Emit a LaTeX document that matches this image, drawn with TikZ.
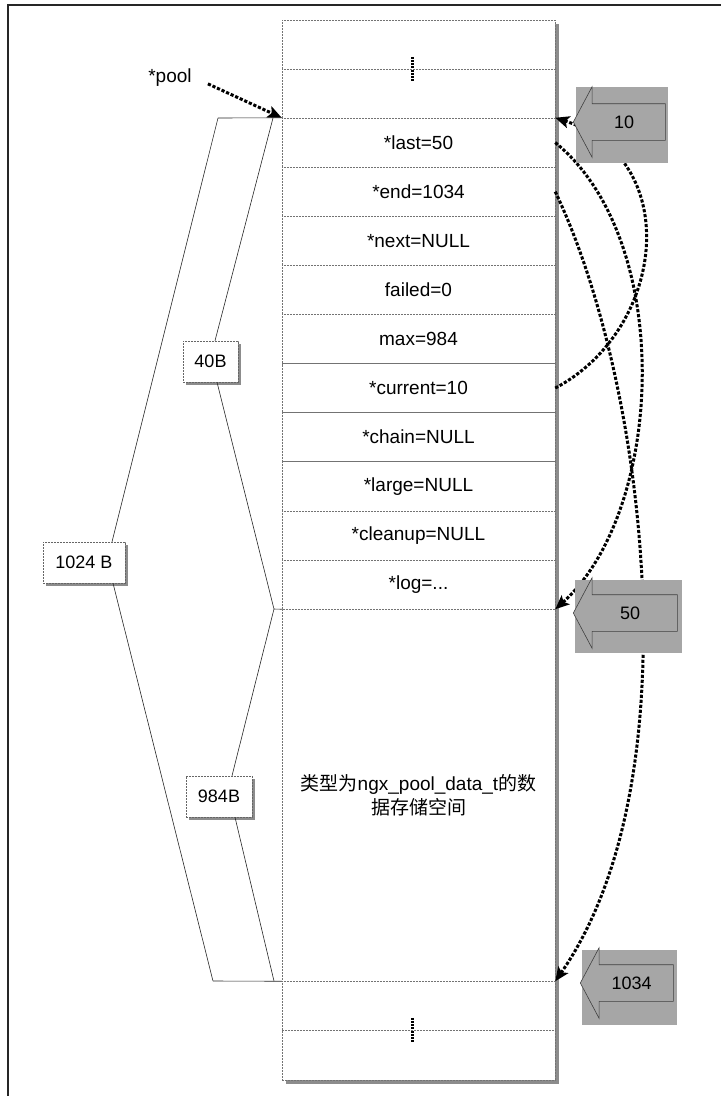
\documentclass[tikz,border=0pt]{standalone}
\usepackage{fontspec}
\setmainfont{Liberation Sans}
\newfontfamily\cjk{Noto Sans CJK SC}
\usetikzlibrary{arrows.meta, shapes.arrows, backgrounds}

\newcommand\logtxt{*log=...}

\begin{document}
\begin{tikzpicture}[
  x=1pt, y=-1pt,
  every node/.style={font=\fontsize{19}{22}\selectfont},
  cell/.style={rectangle, draw=black!55, dash pattern=on 2pt off 1pt, line width=0.5pt,
               fill=white, minimum width=273pt, minimum height=#1, inner sep=0pt},
  cell/.default=49.1pt,
  size/.style={rectangle, draw=black!60, dash pattern=on 2pt off 1pt, line width=0.5pt,
               fill=white, minimum width=#1, minimum height=41pt, inner sep=0pt,
               font=\fontsize{18}{20}\selectfont},
  shade/.style={fill=black!45},
  brace/.style={black!85, line width=0.6pt},
  ptr/.style={line width=3pt, dash pattern=on 3.2pt off 1.8pt,
              -{Stealth[length=14pt, width=12pt, inset=3pt]}},
  addrbox/.style={rectangle, fill=black!35, inner sep=0pt},
  addr/.style={single arrow, shape border rotate=180, draw=black!75, fill=black!35,
               line width=0.6pt, single arrow tip angle=124, single arrow head extend=17pt,
               anchor=tip, text height=12pt, text depth=0pt, inner ysep=12pt, inner xsep=0pt,
               minimum height=#1, font=\fontsize{18}{20}\selectfont},
  dots/.style={line width=2.6pt, dash pattern=on 2pt off 1.2pt},
]
\useasboundingbox (0,0) rectangle (721,1096);

\def\xC{418.5}

% frame
\draw[line width=1.4pt, black!85] (8,1096) -- (8,5) -- (721,5);

% memory column
\node[cell=49pt] (t1) at (\xC,44.5) {};
\node[cell=49pt] (t2) at (\xC,93.5) {};
\foreach \nm/\txt [count=\i] in {last/*last=50, end/*end=1034, next/*next=NULL,
    failed/failed=0, max/max=984, current/*current=10, chain/*chain=NULL,
    large/*large=NULL, cleanup/*cleanup=NULL, log/\logtxt}
  \node[cell] (\nm) at (\xC,{118+49.1*(\i-0.5)}) {\txt};
\node[cell=372pt, align=center, font=\fontsize{19}{24}\selectfont] (data) at (\xC,795)
  {{\cjk 类型为}ngx\_pool\_data\_t{\cjk 的数}\\{\cjk 据存储空间}};
\node[cell=49pt] (b1) at (\xC,1005.5) {};
\node[cell=50pt] (b2) at (\xC,1055) {};

% gaps
\draw[dots] ([xshift=-6pt, yshift=12pt]t2.north) -- ([xshift=-6pt, yshift=-12pt]t2.north);
\draw[dots] ([xshift=-6pt, yshift=12pt]b2.north) -- ([xshift=-6pt, yshift=-12pt]b2.north);

% *pool
\node (pool) at (170,78) {*pool};
\draw[ptr, shorten <=14pt] (pool.east) -- (last.north west);

% sizes
\coordinate (top1024) at (218,118);
\coordinate (top40) at (273,118);
\coordinate (mid) at (274,609);
\coordinate (bot1024) at (213,981);
\coordinate (bot984) at (274,981);

\draw[brace] (top1024) -- (last.north west);
\draw[brace] (mid) -- (log.south west);
\draw[brace] (bot1024) -- (data.south west);

\node[size=82pt] (s1024) at (84,562.5) {1024 B};
\node[size=55pt] (s40) at (210.5,361.5) {40B};
\node[size=66pt] (s984) at (219,796.5) {984B};

\draw[brace] (top1024) -- ([xshift=28pt]s1024.north);
\draw[brace] ([xshift=29pt]s1024.south) -- (bot1024);
\draw[brace] (top40) -- ([xshift=4.5pt]s40.north);
\draw[brace] ([xshift=6.5pt]s40.south) -- (mid);
\draw[brace] (mid) -- ([xshift=13pt]s984.north);
\draw[brace] ([xshift=16pt]s984.south) -- (bot984);

% shadows
\begin{scope}[on background layer]
  \fill[white] (0,0) rectangle (721,1096);
  \fill[shade] ([shift={(4pt,-4pt)}]t1.north west) rectangle ([shift={(4pt,-4pt)}]b2.south east);
  \foreach \s in {s1024, s40, s984}
    \fill[shade] ([shift={(3pt,-3pt)}]\s.north west) rectangle ([shift={(3pt,-3pt)}]\s.south east);
\end{scope}

% pointers
\draw[ptr] (last.east) .. controls (675,240) and (665,510) .. (log.south east);
\draw[ptr] (end.east) .. controls (645,380) and (695,780) .. (data.south east);
\draw[ptr] (current.east) .. controls (665,330) and (685,160) .. (last.north east);

% addresses
\node[addrbox, minimum width=92pt, minimum height=76pt] (box10) at (622,125) {};
\node[addr=92pt] (a10) at (573,122) {10};
\node[addrbox, minimum width=107pt, minimum height=73pt] (box50) at (628.5,616.5) {};
\node[addr=104pt] (a50) at (573,613) {50};
\node[addrbox, minimum width=95pt, minimum height=75pt] (box1034) at (629.5,987.5) {};
\node[addr=93pt] (a1034) at (580,983) {1034};

\end{tikzpicture}
\end{document}
